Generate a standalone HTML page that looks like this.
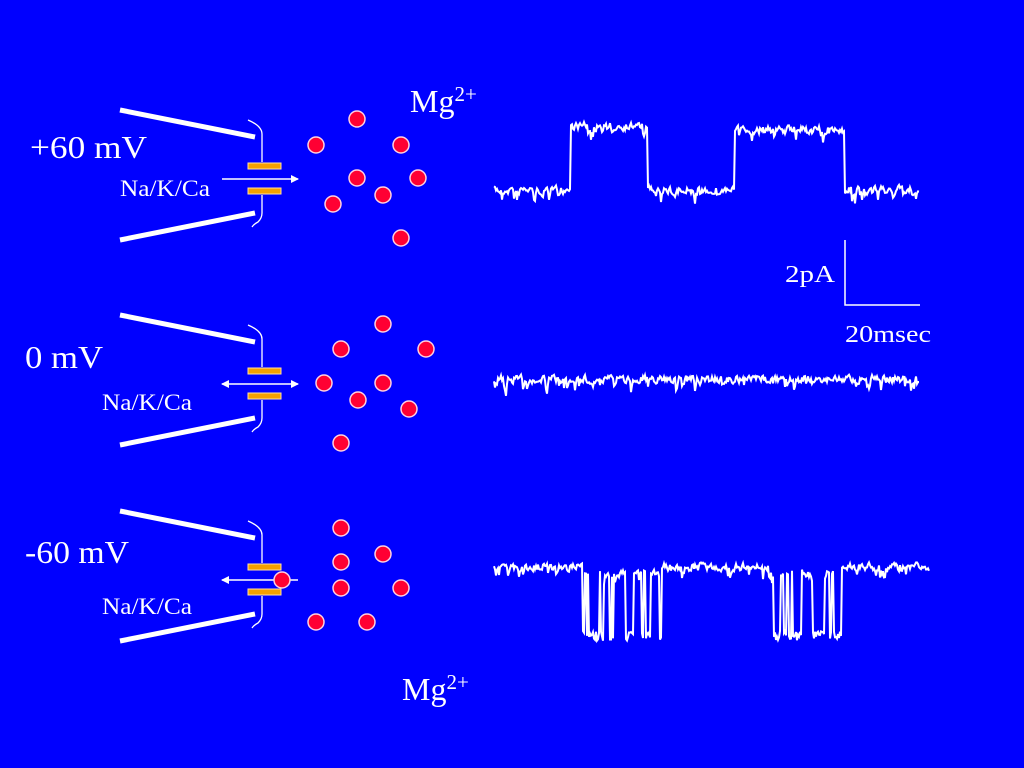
<!DOCTYPE html>
<html><head><meta charset="utf-8"><style>
html,body{margin:0;padding:0;background:#0000ff;}
svg{display:block}
text{font-family:"Liberation Serif",serif;fill:#fff}
</style></head><body>
<svg id="s" width="1024" height="768" viewBox="0 0 1024 768" xmlns="http://www.w3.org/2000/svg">
<rect width="1024" height="768" fill="#0000ff"/>
<defs>
<marker id="ah" markerWidth="8" markerHeight="8" refX="7" refY="4" orient="auto" markerUnits="userSpaceOnUse"><path d="M0,0 L8,4 L0,8 Z" fill="#fff"/></marker>
<marker id="ahs" markerWidth="8" markerHeight="8" refX="1" refY="4" orient="auto" markerUnits="userSpaceOnUse"><path d="M8,0 L0,4 L8,8 Z" fill="#fff"/></marker>
</defs>
<g id="chan"></g>
<g fill="#ff0033" stroke="#ffd0e0" stroke-width="1.5" id="dots"></g>
<g fill="none" stroke="#fff" stroke-width="2" id="traces"></g>
<path d="M845,240 V305 H920" stroke="#fff" stroke-width="1.5" fill="none"/>
<text x="30" y="158" font-size="32" textLength="117" lengthAdjust="spacingAndGlyphs">+60 mV</text>
<text x="120" y="196" font-size="23" textLength="90" lengthAdjust="spacingAndGlyphs">Na/K/Ca</text>
<text x="410" y="112" font-size="32">Mg<tspan font-size="21" dy="-11">2+</tspan></text>
<text x="25" y="368" font-size="32" textLength="78" lengthAdjust="spacingAndGlyphs">0 mV</text>
<text x="102" y="410" font-size="23" textLength="90" lengthAdjust="spacingAndGlyphs">Na/K/Ca</text>
<text x="25" y="563" font-size="32" textLength="104" lengthAdjust="spacingAndGlyphs">-60 mV</text>
<text x="102" y="614" font-size="23" textLength="90" lengthAdjust="spacingAndGlyphs">Na/K/Ca</text>
<text x="402" y="700" font-size="32">Mg<tspan font-size="21" dy="-11">2+</tspan></text>
<text x="785" y="282" font-size="24" textLength="50" lengthAdjust="spacingAndGlyphs">2pA</text>
<text x="845" y="342" font-size="24" textLength="86" lengthAdjust="spacingAndGlyphs">20msec</text>
</svg>
<script>
var NS="http://www.w3.org/2000/svg";
function el(p,t,a){var e=document.createElementNS(NS,t);for(var k in a)e.setAttribute(k,a[k]);document.getElementById(p).appendChild(e);return e;}
function channel(oy,arrow){
 el("chan","line",{x1:120,y1:110+oy,x2:255,y2:137+oy,stroke:"#fff","stroke-width":5});
 el("chan","line",{x1:120,y1:240+oy,x2:255,y2:213+oy,stroke:"#fff","stroke-width":5});
 el("chan","path",{d:"M248,120 Q262,126 262,134 V162",transform:"translate(0,"+oy+")",stroke:"#fff","stroke-width":1.3,fill:"none"});
 el("chan","path",{d:"M262,195 V213 Q262,218 258,222 Q254,224 252,227",transform:"translate(0,"+oy+")",stroke:"#fff","stroke-width":1.3,fill:"none"});
 el("chan","rect",{x:248,y:163+oy,width:33,height:6,fill:"#f5a000",stroke:"#ffe0a0","stroke-width":1});
 el("chan","rect",{x:248,y:188+oy,width:33,height:6,fill:"#f5a000",stroke:"#ffe0a0","stroke-width":1});
 var a={x1:222,y1:179+oy,x2:298,y2:179+oy,stroke:"#fff","stroke-width":1.5};
 if(arrow==1)a["marker-end"]="url(#ah)";
 if(arrow==2){a["marker-end"]="url(#ah)";a["marker-start"]="url(#ahs)";}
 if(arrow==3){a["marker-start"]="url(#ahs)";}
 el("chan","line",a);
}
channel(0,1);channel(205,2);channel(401,3);
var dots=[[357,119],[316,145],[401,145],[357,178],[418,178],[383,195],[333,204],[401,238],
[383,324],[341,349],[426,349],[324,383],[383,383],[358,400],[409,409],[341,443],
[341,528],[383,554],[341,562],[341,588],[401,588],[316,622],[367,622],[282,580]];
dots.forEach(function(d){el("dots","circle",{cx:d[0],cy:d[1],r:8});});
var seed=7;function rnd(){seed=(seed*16807)%2147483647;return seed/2147483647;}
var prev=0;
function noise(){var v=(rnd()-0.5)*12;if(rnd()<0.1)v+=8+rnd()*8;prev=0.4*prev+0.6*v;return prev;}
var pts=[],segs=[[494,571,190],[571,648,126],[648,735,190],[735,845,130],[845,920,190]];
segs.forEach(function(s){for(var x=s[0];x<s[1];x+=1)pts.push(x.toFixed(1)+","+(s[2]+noise()).toFixed(1));});
el("traces","polyline",{points:pts.join(" ")});
pts=[];for(var x=494;x<920;x+=1)pts.push(x.toFixed(1)+","+(379+noise()).toFixed(1));
el("traces","polyline",{points:pts.join(" ")});
pts=[];var low=false;
for(var x=494;x<930;x+=1){
 var inb=(x>582&&x<662)||(x>768&&x<842);
 if(inb){ if(rnd()<0.22)low=!low; pts.push(x.toFixed(1)+","+(low?(636+(rnd()-0.5)*10):(574+noise())).toFixed(1)); }
 else {low=false;pts.push(x.toFixed(1)+","+(567+noise()).toFixed(1));}
}
el("traces","polyline",{points:pts.join(" ")});
</script>
</body></html>
